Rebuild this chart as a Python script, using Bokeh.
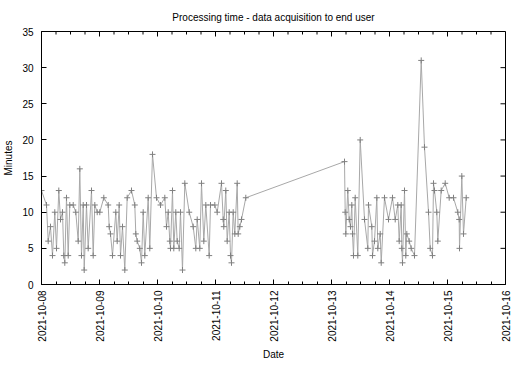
import math
import pandas as pd
from bokeh.plotting import figure
from bokeh.models import FixedTicker, DatetimeTickFormatter, Range1d, ColumnDataSource
from bokeh.embed import file_html
from bokeh.resources import INLINE

# ---- data ----
start_time = "2021-10-08 00:00"
hours_since_start = [
    0.0, 2.07, 2.77, 3.72, 4.55, 5.50, 6.21, 7.16, 7.86, 8.69, 9.23, 9.64, 10.34, 11.05, 11.71,
    13.12, 14.19, 15.19, 15.85, 16.55, 17.26, 17.67, 18.62, 19.32, 20.69, 21.39, 22.06, 23.05,
    24.12, 25.78, 27.60, 28.01, 28.55, 29.38, 30.74, 31.32, 32.15, 32.69, 33.52, 34.47, 35.46,
    37.24, 38.61, 39.02, 39.60, 40.68, 41.38, 42.08, 42.74, 44.15, 44.81, 45.93, 47.59,
    49.24, 51.02, 51.72, 52.43, 53.09, 53.38, 54.21, 54.74, 55.57, 56.15, 56.98, 57.52, 58.34,
    59.30, 61.12, 62.77, 63.85, 64.43, 65.50, 66.21, 67.16, 67.99, 69.39, 69.93, 71.71, 72.70,
    74.48, 75.19, 75.43, 76.26, 76.84, 77.67, 78.21, 78.62, 79.32, 79.99, 80.98, 81.39, 82.06,
    82.76, 84.54,
    125.38, 125.67, 125.92, 126.74, 127.32, 127.86, 128.40, 128.69, 129.10, 129.81, 130.88,
    131.88, 133.66, 135.02, 135.31, 136.68, 136.97, 137.79, 138.75, 139.16, 140.15, 140.57,
    141.93, 143.59, 145.24, 146.36, 147.43, 148.01, 148.84, 149.09, 149.38, 150.21, 150.74,
    151.16, 152.15, 152.98, 154.34, 157.12, 158.48, 160.14, 160.84, 161.79, 162.21, 162.62,
    163.57, 163.99, 165.39, 167.05, 168.70, 170.48, 172.26, 172.84, 172.97, 173.92, 174.62,
    175.74,
]
minutes = [
    13, 11, 6, 8, 4, 10, 5, 13, 9, 10, 4, 3, 12, 4, 11,
    11, 10, 6, 16, 4, 11, 2, 11, 5, 13, 4, 11, 10,
    10, 12, 11, 8, 7, 4, 10, 6, 11, 4, 8, 2, 12,
    13, 11, 7, 6, 5, 3, 10, 4, 12, 5, 18, 12,
    11, 12, 8, 10, 6, 5, 13, 5, 10, 6, 5, 10, 2,
    14, 10, 8, 5, 9, 5, 14, 6, 11, 4, 11, 11, 10,
    14, 9, 8, 13, 6, 10, 4, 3, 10, 7, 14, 7, 8,
    9, 12,
    17, 10, 7, 13, 9, 8, 11, 7, 4, 12, 4,
    20, 9, 5, 11, 8, 4, 6, 12, 5, 7, 3,
    12, 9, 12, 9, 11, 6, 11, 5, 3, 13, 4,
    7, 6, 5, 4, 31, 19, 10, 5, 4, 14, 13,
    10, 6, 13, 14, 12, 12, 10, 9, 5, 15, 7,
    12,
]
tick_dates = ["2021-10-08", "2021-10-09", "2021-10-10", "2021-10-11", "2021-10-12",
              "2021-10-13", "2021-10-14", "2021-10-15", "2021-10-16"]
y_ticks = [0, 5, 10, 15, 20, 25, 30, 35]

title_text = "Processing time - data acquisition to end user"
x_label = "Date"
y_label = "Minutes"

# ---- build ----
t0 = pd.Timestamp(start_time)
times = [t0 + pd.Timedelta(hours=h) for h in hours_since_start]
src = ColumnDataSource(dict(t=times, m=minutes))

major_ms = [pd.Timestamp(d).value // 10**6 for d in tick_dates]
minor_ms = []
for a, b in zip(major_ms[:-1], major_ms[1:]):
    step = (b - a) / 4
    minor_ms += [a + step * k for k in range(1, 4)]
xticker = FixedTicker(ticks=major_ms, minor_ticks=minor_ms)
yticker = FixedTicker(ticks=y_ticks, minor_ticks=[])

FONT = "Liberation Sans"
FW, FH = 464, 253
y0, y1 = y_ticks[0], y_ticks[-1]
x0, x1 = major_ms[0], major_ms[-1]

p = figure(frame_width=FW, frame_height=FH, x_axis_type="datetime",
           output_backend="svg", toolbar_location=None,
           title=title_text,
           x_range=Range1d(x0, x1), y_range=Range1d(y0, y1))
p.min_border_left = 39
p.min_border_right = 6
p.min_border_top = 24
p.min_border_bottom = 75

p.title.align = "center"
p.title.text_font = FONT
p.title.text_font_size = "10px"
p.title.text_font_style = "normal"
p.title.text_color = "black"
p.title.standoff = 18

p.grid.visible = False
p.outline_line_color = "black"
p.outline_line_width = 1
p.background_fill_color = "white"
p.border_fill_color = "white"

fmt = DatetimeTickFormatter(days="%Y-%m-%d", months="%Y-%m-%d", hours="%Y-%m-%d",
                            hourmin="%Y-%m-%d", years="%Y-%m-%d")

for ax, tk in ((p.xaxis[0], xticker), (p.yaxis[0], yticker)):
    ax.ticker = tk
    ax.axis_line_color = "black"
    ax.major_tick_line_color = "black"
    ax.minor_tick_line_color = "black"
    ax.major_tick_in = 5
    ax.major_tick_out = 0
    ax.minor_tick_in = 3
    ax.minor_tick_out = 0
    ax.major_label_text_font = FONT
    ax.major_label_text_font_size = "10px"
    ax.major_label_text_color = "black"
    ax.axis_label_text_font = FONT
    ax.axis_label_text_font_size = "10px"
    ax.axis_label_text_font_style = "normal"
    ax.axis_label_text_color = "black"

xa = p.xaxis[0]
xa.formatter = fmt
xa.major_label_orientation = math.pi / 2
xa.major_label_standoff = 6
xa.axis_label = x_label
xa.axis_label_standoff = 4

ya = p.yaxis[0]
ya.major_label_standoff = 8
ya.axis_label = y_label
ya.axis_label_standoff = 5

# mirrored inward ticks on top and right edges (gnuplot style frame)
dy_major = 5 * (y1 - y0) / FH
dy_minor = 3 * (y1 - y0) / FH
dx_major = 5 * (x1 - x0) / FW
p.segment(x0=major_ms, y0=[y1] * len(major_ms), x1=major_ms, y1=[y1 - dy_major] * len(major_ms),
          line_color="black", line_width=1)
p.segment(x0=minor_ms, y0=[y1] * len(minor_ms), x1=minor_ms, y1=[y1 - dy_minor] * len(minor_ms),
          line_color="black", line_width=1)
p.segment(x0=[x1] * len(y_ticks), y0=y_ticks, x1=[x1 - dx_major] * len(y_ticks), y1=y_ticks,
          line_color="black", line_width=1)

p.line("t", "m", source=src, line_color="#a8a8a8", line_width=1)
p.scatter("t", "m", source=src, marker="cross", size=6, line_color="#808080", line_width=1)

open("out.html", "w").write(file_html(p, INLINE))
